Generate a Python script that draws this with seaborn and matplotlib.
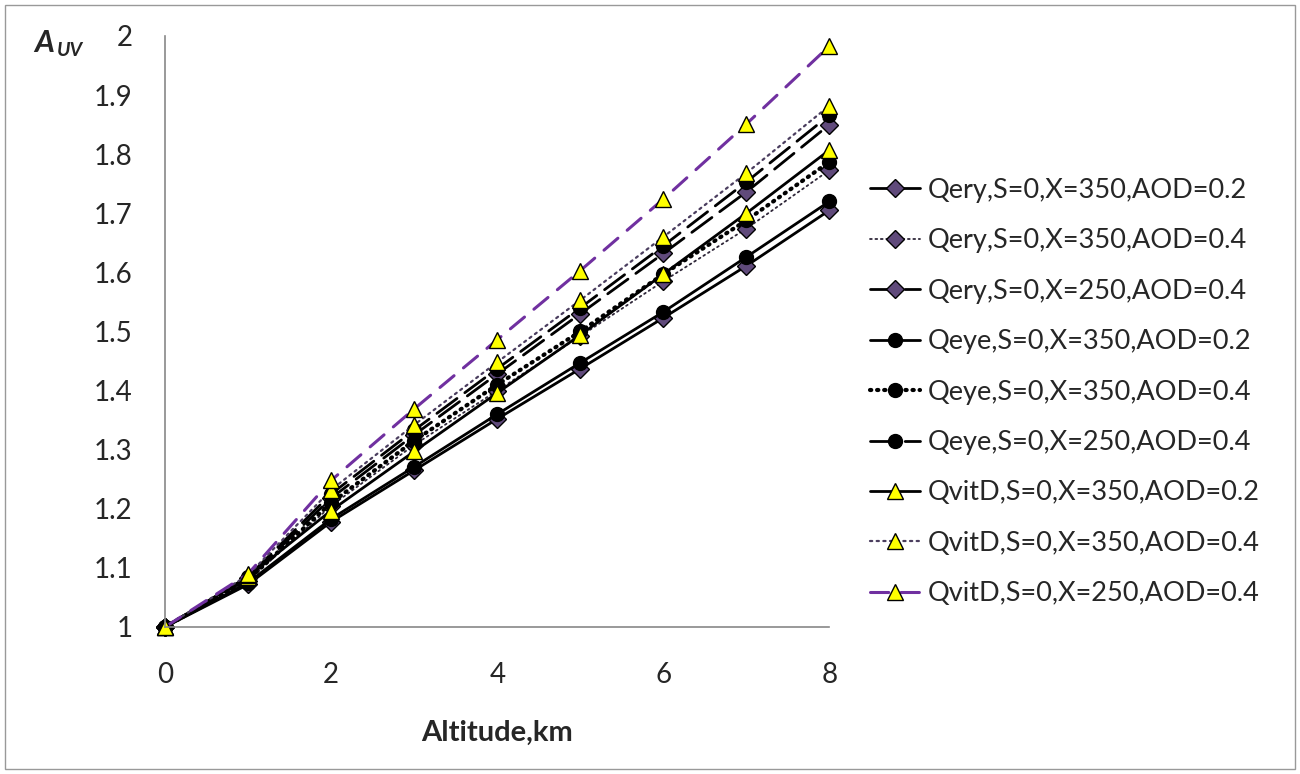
import matplotlib
matplotlib.use("Agg")
import matplotlib.pyplot as plt
import seaborn as sns
import pandas as pd
from matplotlib.patches import Rectangle

altitude = [0, 1, 2, 3, 4, 5, 6, 7, 8]

qery_350_02 = [1, 1.072, 1.178, 1.265, 1.352, 1.437, 1.523, 1.611, 1.705]
qery_350_04 = [1, 1.078, 1.205, 1.308, 1.400, 1.492, 1.585, 1.674, 1.773]
qery_250_04 = [1, 1.082, 1.218, 1.325, 1.428, 1.530, 1.632, 1.736, 1.850]
qeye_350_02 = [1, 1.075, 1.183, 1.271, 1.360, 1.447, 1.533, 1.626, 1.720]
qeye_350_04 = [1, 1.080, 1.210, 1.315, 1.410, 1.500, 1.597, 1.688, 1.787]
qeye_250_04 = [1, 1.085, 1.225, 1.333, 1.437, 1.540, 1.645, 1.753, 1.866]
qvitd_350_02 = [1, 1.085, 1.197, 1.297, 1.396, 1.494, 1.597, 1.700, 1.807]
qvitd_350_04 = [1, 1.088, 1.232, 1.342, 1.448, 1.553, 1.660, 1.768, 1.882]
qvitd_250_04 = [1, 1.090, 1.248, 1.369, 1.486, 1.603, 1.724, 1.851, 1.983]

labels = [
    "Qery,S=0,X=350,AOD=0.2",
    "Qery,S=0,X=350,AOD=0.4",
    "Qery,S=0,X=250,AOD=0.4",
    "Qeye,S=0,X=350,AOD=0.2",
    "Qeye,S=0,X=350,AOD=0.4",
    "Qeye,S=0,X=250,AOD=0.4",
    "QvitD,S=0,X=350,AOD=0.2",
    "QvitD,S=0,X=350,AOD=0.4",
    "QvitD,S=0,X=250,AOD=0.4",
]
values = [qery_350_02, qery_350_04, qery_250_04,
          qeye_350_02, qeye_350_04, qeye_250_04,
          qvitd_350_02, qvitd_350_04, qvitd_250_04]

purple_fill = "#604A7B"
yellow = "#FFFF00"
# (line color, linestyle, linewidth, marker, marker face, marker size)
styles = [
    ("black", "-", 2.0, "D", purple_fill, 9),
    ("#2e2638", (0, (1, 2)), 1.3, "D", purple_fill, 9),
    ("black", (0, (9, 3.5)), 2.0, "D", purple_fill, 9),
    ("black", "-", 2.0, "o", "black", 10),
    ("black", (0, (0.3, 1.4)), 3.0, "o", "black", 10),
    ("black", (0, (9, 3.5)), 2.0, "o", "black", 10),
    ("black", "-", 2.0, "^", yellow, 11),
    ("#4a3d5e", (0, (1, 2)), 1.6, "^", yellow, 11),
    ("#7030A0", (0, (6, 4)), 2.2, "^", yellow, 11),
]

sns.set_style("white")
plt.rcParams['font.family'] = ['Lato', 'DejaVu Sans']

fig = plt.figure(figsize=(13, 7.74), dpi=100)
ax = fig.add_axes([0.127, 0.19, 0.511, 0.7635])

for lab, vals, (col, ls, lw, mk, mfc, ms) in zip(labels, values, styles):
    df = pd.DataFrame({"Altitude": altitude, "A": vals})
    sns.lineplot(data=df, x="Altitude", y="A", ax=ax, color=col,
                 linestyle=ls, linewidth=lw, marker=mk, markersize=ms,
                 markerfacecolor=mfc, markeredgecolor="black",
                 markeredgewidth=1.0, dash_capstyle="round", label=lab)

ax.set_xlim(0, 8)
ax.set_ylim(1, 2)
ax.set_xticks([0, 2, 4, 6, 8])
ax.set_yticks([1 + 0.1 * i for i in range(11)])
ax.set_yticklabels(["1", "1.1", "1.2", "1.3", "1.4", "1.5", "1.6",
                    "1.7", "1.8", "1.9", "2"])
ax.tick_params(axis="both", direction="out", length=6.5, width=1,
               color="#888888", labelsize=20)
ax.tick_params(axis="x", pad=19)
ax.tick_params(axis="y", pad=17)
for side in ["top", "right"]:
    ax.spines[side].set_visible(False)
for side in ["left", "bottom"]:
    ax.spines[side].set_color("#888888")
    ax.spines[side].set_linewidth(1.2)
ax.set_xlabel("")
ax.set_ylabel("")
ax.margins(0)
for ln in ax.get_lines():
    ln.set_clip_on(False)

fig.text(0.382, 0.053, "Altitude,km", fontsize=21, fontweight="bold",
         ha="center", va="center")
fig.text(0.026, 0.9328, "A", fontsize=22, fontweight="bold", style="italic",
         ha="left", va="baseline")
fig.text(0.0435, 0.9277, "UV", fontsize=14, fontweight="bold", style="italic",
         ha="left", va="baseline")

ax.legend(loc="center left", bbox_to_anchor=(0.669, 0.4935),
          bbox_transform=fig.transFigure, frameon=False, fontsize=19.5,
          handlelength=1.85, labelspacing=0.94, handletextpad=0.3,
          borderpad=0, borderaxespad=0)

fig.add_artist(Rectangle((0.004, 0.006), 0.992, 0.988,
                         transform=fig.transFigure, fill=False,
                         edgecolor="#999999", linewidth=1.0))

fig.savefig("out.png", dpi=100)
